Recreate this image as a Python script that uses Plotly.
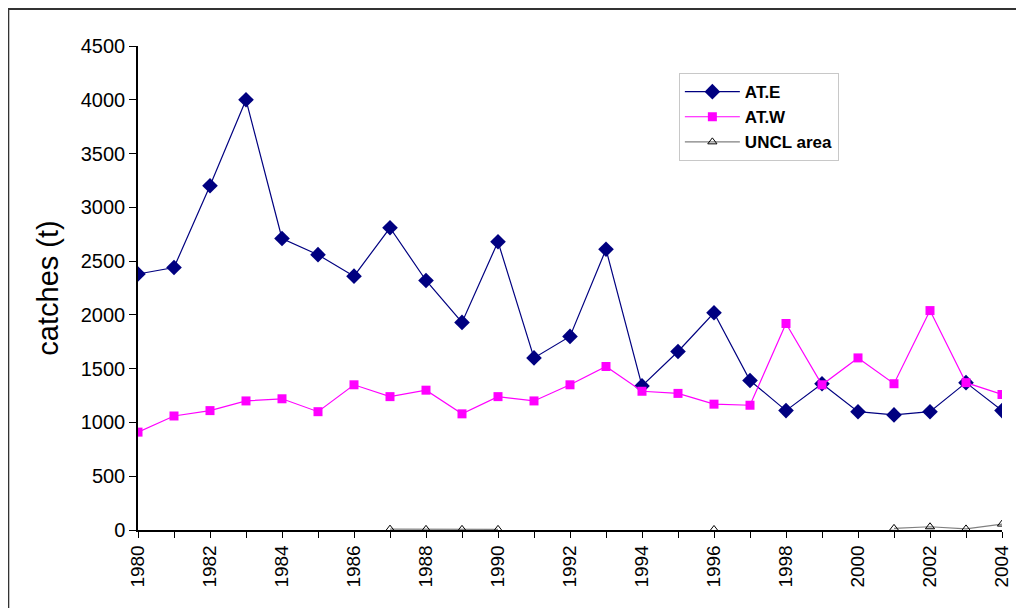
import plotly.graph_objects as go

years = list(range(1980, 2005))
at_e = [2380, 2440, 3200, 4000, 2710, 2560, 2360, 2810, 2320, 1930, 2680, 1600, 1800,
        2610, 1340, 1660, 2020, 1390, 1110, 1360, 1100, 1070, 1100, 1370, 1110]
at_w = [910, 1060, 1110, 1200, 1220, 1100, 1350, 1240, 1300, 1080, 1240, 1200, 1350,
        1520, 1290, 1270, 1170, 1160, 1920, 1350, 1600, 1360, 2040, 1370, 1260]
uncl = [None, None, None, None, None, None, None, 8, 6, 6, 6, None, None,
        None, None, None, 5, None, None, None, None, 15, 30, 10, 55]
x_tick_vals = years
x_tick_text = [str(y) if y % 2 == 0 else "" for y in years]
y_tick_vals = [0, 500, 1000, 1500, 2000, 2500, 3000, 3500, 4000, 4500]

font = "Liberation Sans, Arial, sans-serif"

fig = go.Figure()
fig.add_trace(go.Scatter(x=years, y=at_e, name="AT.E", mode="lines+markers",
                         line=dict(color="#000080", width=1.2),
                         marker=dict(symbol="diamond", size=12, color="#000080")))
fig.add_trace(go.Scatter(x=years, y=at_w, name="AT.W", mode="lines+markers",
                         line=dict(color="#FF00FF", width=1.2),
                         marker=dict(symbol="square", size=9, color="#FF00FF")))
fig.add_trace(go.Scatter(x=years, y=uncl, name="UNCL area", mode="lines+markers",
                         line=dict(color="#808080", width=1.2),
                         marker=dict(symbol="triangle-up-open", size=8, color="#000000",
                                     line=dict(width=1, color="#000000"))))

# page body has an 8px offset; figure sized to compensate
fig.update_layout(
    width=1016, height=600,
    margin=dict(l=130, r=20, t=38, b=78),
    paper_bgcolor="white", plot_bgcolor="white",
    font=dict(family=font, color="black", size=20),
    showlegend=True,
    legend=dict(x=0.626, y=0.944, xanchor="left", yanchor="top",
                bordercolor="#c8c8c8", borderwidth=1, bgcolor="white",
                font=dict(size=17, family=font, weight="bold"), tracegroupgap=0,
                itemwidth=55),
    xaxis=dict(range=[1980, 2004], tickmode="array", tickvals=x_tick_vals,
               ticktext=x_tick_text, tickangle=-90, ticks="outside", ticklen=6,
               tickcolor="black", showline=True, linecolor="black", linewidth=1.5,
               showgrid=False, zeroline=False, tickfont=dict(size=19)),
    yaxis=dict(range=[0, 4500], tickmode="array", tickvals=y_tick_vals,
               ticks="outside", ticklen=7, tickcolor="black", showline=True,
               linecolor="black", linewidth=1.5, showgrid=False, zeroline=False,
               tickfont=dict(size=20),
               title=dict(text="catches (t)", font=dict(size=29), standoff=14)),
    shapes=[dict(type="rect", xref="paper", yref="paper",
                 x0=-130/866, x1=1.05, y0=-0.3, y1=(530-9)/484,
                 line=dict(color="#333333", width=2), fillcolor="rgba(0,0,0,0)",
                 layer="below")],
)
fig.write_html("out.html")
